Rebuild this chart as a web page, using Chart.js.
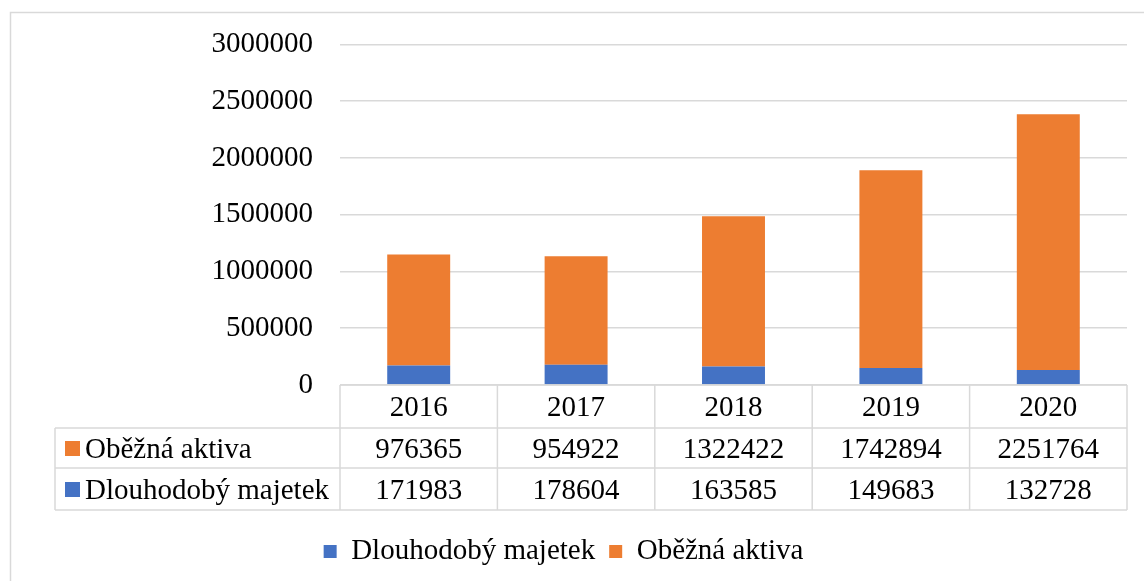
<!DOCTYPE html>
<html>
<head>
<meta charset="utf-8">
<script src="https://cdn.jsdelivr.net/npm/chart.js@4/dist/chart.umd.min.js"></script>
<style>
  html, body { margin: 0; padding: 0; background: #fff; }
  #wrap { width: 1144px; height: 581px; position: relative; }
</style>
</head>
<body>
<div id="wrap"><canvas id="chart" width="1144" height="581"></canvas></div>
<script>
const years = ['2016', '2017', '2018', '2019', '2020'];
const dlouhodobyMajetek = [171983, 178604, 163585, 149683, 132728];
const obeznaAktiva = [976365, 954922, 1322422, 1742894, 2251764];
const seriesNames = ['Dlouhodobý majetek', 'Oběžná aktiva'];
const seriesColors = ['#4472C4', '#ED7D31'];

const FONT = 'Liberation Serif, Times New Roman, serif';
const GRID = '#D9D9D9';

// frame + data table under the plot
const tablePlugin = {
    id: 'dataTable',
    beforeDraw(chart) {
        const ctx = chart.ctx;
        ctx.save();
        ctx.strokeStyle = GRID;
        ctx.lineWidth = 1.5;
        ctx.beginPath();
        ctx.moveTo(10.5, 581);
        ctx.lineTo(10.5, 12.5);
        ctx.lineTo(1144, 12.5);
        ctx.stroke();
        ctx.restore();
    },
    afterDraw(chart) {
        const ctx = chart.ctx;
        const x = chart.scales.x;
        const area = chart.chartArea;
        const colW = x.getPixelForValue(1) - x.getPixelForValue(0);
        const left = area.left, right = area.right;
        const top = area.bottom;
        const rows = [top, top + 43, top + 83, top + 125];
        const labelLeft = 55;

        function line(x1, y1, x2, y2) {
            ctx.beginPath();
            ctx.moveTo(x1, y1);
            ctx.lineTo(x2, y2);
            ctx.stroke();
        }

        ctx.save();
        ctx.strokeStyle = GRID;
        ctx.lineWidth = 1.5;
        line(left, rows[0], right, rows[0]);
        line(labelLeft, rows[1], right, rows[1]);
        line(labelLeft, rows[2], right, rows[2]);
        line(labelLeft, rows[3], right, rows[3]);
        line(labelLeft, rows[1], labelLeft, rows[3]);
        for (let i = 0; i <= years.length; i++) {
            const px = left + i * colW;
            line(px, rows[0], px, rows[3]);
        }

        ctx.fillStyle = '#000';
        ctx.font = '29px ' + FONT;
        ctx.textAlign = 'center';
        ctx.textBaseline = 'middle';

        const tableRows = [
            {name: seriesNames[1], color: seriesColors[1], values: obeznaAktiva},
            {name: seriesNames[0], color: seriesColors[0], values: dlouhodobyMajetek}
        ];

        years.forEach(function(yr, i) {
            const cx = x.getPixelForValue(i);
            ctx.fillText(yr, cx, (rows[0] + rows[1]) / 2 + 2);
            tableRows.forEach(function(r, j) {
                ctx.fillText(String(r.values[i]), cx, (rows[j + 1] + rows[j + 2]) / 2 + 2);
            });
        });

        ctx.textAlign = 'left';
        tableRows.forEach(function(r, j) {
            const cy = (rows[j + 1] + rows[j + 2]) / 2;
            ctx.fillStyle = r.color;
            ctx.fillRect(65, cy - 7, 15, 15);
            ctx.fillStyle = '#000';
            ctx.fillText(r.name, 85, cy + 2);
        });
        ctx.restore();
    }
};

new Chart(document.getElementById('chart'), {
    type: 'bar',
    data: {
        labels: years,
        datasets: [
            {
                label: seriesNames[0],
                data: dlouhodobyMajetek,
                backgroundColor: seriesColors[0],
                categoryPercentage: 1,
                barPercentage: 0.4
            },
            {
                label: seriesNames[1],
                data: obeznaAktiva,
                backgroundColor: seriesColors[1],
                categoryPercentage: 1,
                barPercentage: 0.4
            }
        ]
    },
    options: {
        responsive: false,
        animation: false,
        layout: {
            padding: {left: 0, right: 17, top: 43, bottom: 5}
        },
        scales: {
            x: {
                stacked: true,
                grid: {display: false},
                border: {display: false},
                ticks: {display: false},
                afterFit(scale) { scale.height = 138; }
            },
            y: {
                stacked: true,
                min: 0,
                max: 3000000,
                ticks: {
                    stepSize: 500000,
                    padding: 27,
                    color: '#000',
                    font: {family: FONT, size: 29},
                    callback: function(v) { return String(v); }
                },
                grid: {color: GRID, lineWidth: 1.5, drawTicks: false},
                border: {display: false},
                afterFit(scale) { scale.width = 340; }
            }
        },
        plugins: {
            tooltip: {enabled: false},
            legend: {
                position: 'bottom',
                labels: {
                    boxWidth: 13,
                    boxHeight: 13,
                    padding: 14,
                    color: '#000',
                    font: {family: FONT, size: 29}
                }
            }
        }
    },
    plugins: [tablePlugin]
});
</script>
</body>
</html>
